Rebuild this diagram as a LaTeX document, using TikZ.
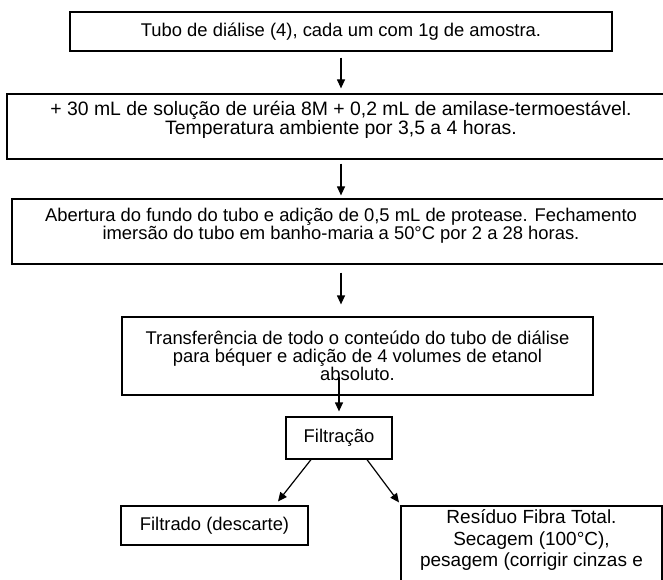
\documentclass[tikz,border=0pt]{standalone}
\usepackage{fontspec}
\setmainfont{Liberation Sans}
\usetikzlibrary{arrows.meta,positioning}

\begin{document}
\begin{tikzpicture}[x=1pt,y=1pt,>={Triangle[length=9pt,width=8pt]},line width=1.2pt,
    node distance=100pt,on grid,
    stepbox/.style={draw,rectangle,inner sep=0pt},
    steptext/.style={align=center,font=\fontsize{18.4}{17.7}\selectfont}]
  \useasboundingbox (0,0) rectangle (663,579);
  \clip (0,0) rectangle (663,579);
  \node[stepbox,steptext,minimum width=542pt,minimum height=39pt] (s_1) at (341,547.5) {Tubo de diálise (4), cada um com 1g de amostra.};
  \node[stepbox,minimum width=668pt,minimum height=65pt] (s_2) [below=95pt of s_1] {};
  \node[steptext,font=\fontsize{19.4}{18}\selectfont] (t_2) [above=7pt of s_2] {+ 30 mL de solução de uréia 8M + 0,2 mL de amilase-termoestável.\\Temperatura ambiente por 3,5 a 4 horas.};
  \node[stepbox,minimum width=658pt,minimum height=65pt] (s_3) [below=105pt of s_2] {};
  \node[steptext] (t_3) [above=6pt of s_3] {Abertura do fundo do tubo e adição de 0,5 mL de protease. Fechamento\\imersão do tubo em banho-maria a 50°C por 2 a 28 horas.};
  \node[stepbox,steptext,minimum width=471pt,minimum height=78pt] (s_4) [below right=124.5pt and 16.5pt of s_3] {Transferência de todo o conteúdo do tubo de diálise\\para béquer e adição de 4 volumes de etanol\\absoluto.};
  \node[stepbox,steptext,minimum width=106pt,minimum height=42pt] (f) [below left=82pt and 18.5pt of s_4] {Filtração};
  \node[stepbox,steptext,minimum width=187pt,minimum height=39pt] (d) [below left=87.5pt and 124.5pt of f] {Filtrado (descarte)};
  \node[stepbox,minimum width=261pt,minimum height=120pt] (r) [below right=128pt and 192.5pt of f] {};
  \node[steptext,font=\fontsize{19}{21.7}\selectfont] (t_r) [above=26pt of r] {Resíduo Fibra Total.\\Secagem (100°C),\\pesagem (corrigir cinzas e};
  \path[->]
    (s_1.south) edge[shorten <=6pt,shorten >=5pt] (s_1.south |- s_2.north)
    (s_1.south |- s_2.south) edge[shorten <=4pt,shorten >=3pt] (s_1.south |- s_3.north)
    (s_1.south |- s_3.south) edge[shorten <=8pt,shorten >=12pt] (s_1.south |- s_4.north)
    (f.north) ++(0,39pt) edge[shorten >=5pt] (f.north)
    ([xshift=-28pt]f.south) edge[shorten >=5pt] ([xshift=60.4pt]d.north)
    ([xshift=28pt]f.south) edge[shorten >=3.7pt] ([xshift=-130.3pt]r.north);
\end{tikzpicture}
\end{document}
